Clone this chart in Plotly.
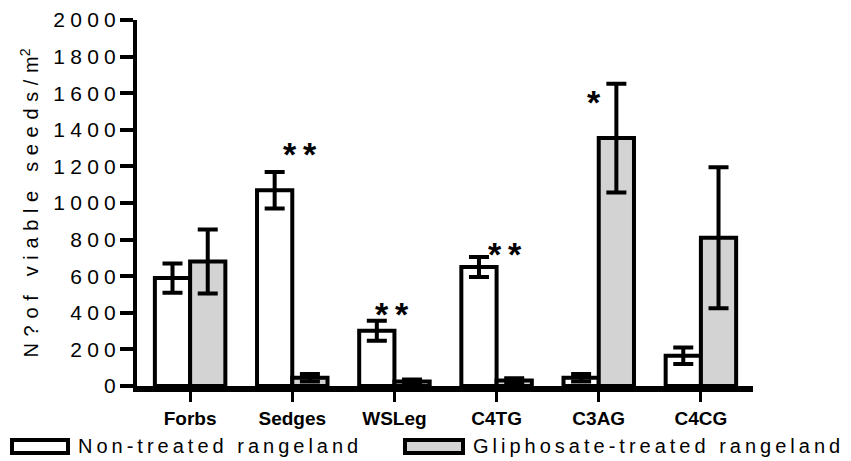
import plotly.graph_objects as go

categories = ["Forbs", "Sedges", "WSLeg", "C4TG", "C3AG", "C4CG"]
non_treated = [590, 1070, 302, 650, 45, 165]
non_treated_err = [80, 100, 55, 55, 20, 45]
gliphosate = [680, 45, 25, 30, 1355, 810]
gliphosate_err = [175, 20, 10, 12, 297, 385]
series_names = ["Non-treated rangeland", "Gliphosate-treated rangeland"]
y_ticks = [0, 200, 400, 600, 800, 1000, 1200, 1400, 1600, 1800, 2000]
y_title = "N?of viable seeds/m"
sig_labels = ["**", "**", "**", "*"]
sig_cats = ["Sedges", "WSLeg", "C4TG", "C3AG"]
sig_y = [1297, 423, 747, 1577]
sig_xshift = [8, -2, 8, -5]

W, H = 851, 461
L, R, T, B = 137, 98, 20, 75
pw, ph = W - L - R, H - T - B

def px2paper(px, py):
    return (px - L) / pw, (H - B - py) / ph

def spaced(s, sep="\u2005"):
    return sep.join(list(s))

FONT = "Liberation Sans, Arial"

fig = go.Figure()
fig.add_trace(go.Bar(
    x=categories, y=non_treated, name=series_names[0],
    marker=dict(color="white", line=dict(color="black", width=4)),
    error_y=dict(type="data", array=non_treated_err, color="black", thickness=4, width=10),
    showlegend=False,
))
fig.add_trace(go.Bar(
    x=categories, y=gliphosate, name=series_names[1],
    marker=dict(color="#d3d3d3", line=dict(color="black", width=4)),
    error_y=dict(type="data", array=gliphosate_err, color="black", thickness=4, width=10),
    showlegend=False,
))

for lab, c, yv, xs in zip(sig_labels, sig_cats, sig_y, sig_xshift):
    fig.add_annotation(x=c, y=yv, xref="x", yref="y", text="<b>" + "\u2009".join(lab) + "</b>",
                       showarrow=False, xshift=xs, yshift=-5,
                       font=dict(family=FONT, size=34, color="black"))

# legend drawn manually
legend_items = [((12, 68), "white", 76), ((405, 463), "#d3d3d3", 471)]
for (xa, xb), col, tx in legend_items:
    x0, y0 = px2paper(xa, 453)
    x1, y1 = px2paper(xb, 440)
    fig.add_shape(type="rect", xref="paper", yref="paper", x0=x0, x1=x1, y0=y0, y1=y1,
                  fillcolor=col, line=dict(color="black", width=4))
for ((xa, xb), col, tx), name in zip(legend_items, series_names):
    xp, yp = px2paper(tx, 446)
    fig.add_annotation(x=xp, y=yp, xref="paper", yref="paper", xanchor="left", yanchor="middle",
                       text=spaced(name, "\u2009"), showarrow=False,
                       font=dict(family=FONT, size=20, color="black"))

fig.update_layout(
    width=W, height=H,
    margin=dict(l=L, r=R, t=T, b=B, autoexpand=False),
    plot_bgcolor="white", paper_bgcolor="white",
    barmode="group", bargap=0.31, bargroupgap=0,
    font=dict(family=FONT, color="black"),
)
fig.update_xaxes(
    type="category", range=[-0.52, 5.51],
    showline=True, linecolor="black", linewidth=6,
    ticks="outside", ticklen=10, tickwidth=3, tickcolor="black",
    tickfont=dict(family=FONT, size=19, color="black"),
    tickvals=categories, ticktext=["<b>" + c + "</b>" for c in categories],
    showgrid=False, zeroline=False,
)
fig.update_yaxes(
    range=[0, 2000], tickvals=y_ticks, ticktext=[spaced(str(v)) for v in y_ticks],
    showline=True, linecolor="black", linewidth=4,
    ticks="outside", ticklen=13, tickwidth=4, tickcolor="black",
    tickfont=dict(family=FONT, size=21, color="black"),
    showgrid=False, zeroline=False,
    title=dict(text=spaced(y_title, "\u2004") + "<sup>2</sup>", standoff=10,
               font=dict(family=FONT, size=20, color="black")),
)

fig.write_html("out.html", config={"displayModeBar": False},
               post_script="document.body.style.margin='0';document.body.style.padding='0';")
